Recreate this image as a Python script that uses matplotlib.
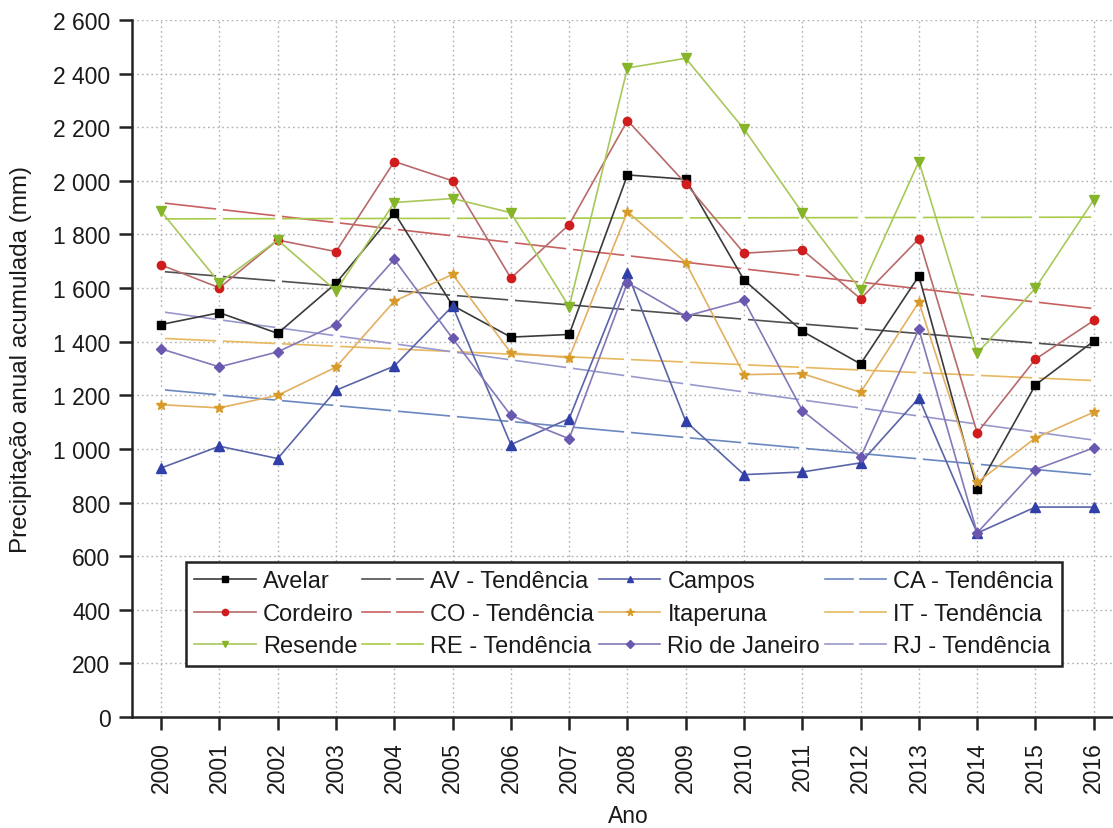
import numpy as np
import matplotlib
matplotlib.use("Agg")
import matplotlib.pyplot as plt
from matplotlib.ticker import FuncFormatter, MultipleLocator

plt.rcParams['font.family'] = ['Liberation Sans', 'DejaVu Sans']

years = list(range(2000, 2017))

avelar = [1464, 1508, 1431, 1618, 1881, 1535, 1417, 1427, 2022, 2006, 1630,
          1439, 1317, 1645, 850, 1239, 1402]
cordeiro = [1686, 1601, 1779, 1736, 2072, 2000, 1637, 1837, 2225, 1990, 1730,
            1743, 1560, 1784, 1060, 1335, 1479]
resende = [1886, 1620, 1779, 1590, 1919, 1934, 1881, 1530, 2421, 2457, 2193,
           1881, 1593, 2072, 1356, 1600, 1929]
campos = [929, 1010, 964, 1219, 1309, 1533, 1016, 1113, 1655, 1103, 904,
          914, 948, 1190, 686, 783, 783]
itaperuna = [1165, 1153, 1200, 1305, 1551, 1651, 1358, 1340, 1885, 1695, 1277,
             1281, 1211, 1548, 875, 1041, 1137]
rio = [1373, 1306, 1362, 1464, 1707, 1412, 1125, 1038, 1620, 1495, 1554,
       1143, 970, 1446, 687, 923, 1004]

stations = [
    # name, trend label, data, line colour, marker, marker size, marker colour, trend colour
    ("Avelar", "AV - Tendência", avelar, "#3a3a3a", "s", 5.5, "#000000", "#505050"),
    ("Cordeiro", "CO - Tendência", cordeiro, "#b86a6a", "o", 6.0, "#d01c1c", "#c86060"),
    ("Resende", "RE - Tendência", resende, "#a8c85a", "v", 6.5, "#86b52a", "#a8cc48"),
    ("Campos", "CA - Tendência", campos, "#5a64a8", "^", 6.5, "#3040a8", "#6a88c0"),
    ("Itaperuna", "IT - Tendência", itaperuna, "#e2b060", "*", 7.5, "#d89a28", "#e8b860"),
    ("Rio de Janeiro", "RJ - Tendência", rio, "#8478b8", "D", 5.0, "#6a58b0", "#9898cc"),
]

fig = plt.figure(figsize=(11.13, 8.29), dpi=100)
ax = fig.add_axes([0.1186, 0.1339, 0.8814, 0.8408])

x = np.array(years)
data_handles = {}
trend_handles = {}
for name, tname, vals, lc, mk, ms, mc, tc in stations:
    h, = ax.plot(x, vals, color=lc, lw=1.2, marker=mk, ms=ms,
                 markerfacecolor=mc, markeredgecolor=mc, label=name, zorder=3)
    # least-squares linear trend of the station series
    coef = np.polyfit(x, np.array(vals, dtype=float), 1)
    trend = np.polyval(coef, x)
    t, = ax.plot(x, trend, color=tc, lw=1.2, marker="o", ms=4,
                 markerfacecolor="white", markeredgecolor="white",
                 label=tname, zorder=2)
    data_handles[name] = h
    trend_handles[name] = t

ax.set_xlim(1999.5, 2016.33)
ax.set_ylim(0, 2600)
ax.yaxis.set_major_locator(MultipleLocator(200))
ax.yaxis.set_major_formatter(FuncFormatter(
    lambda v, p: f"{int(v):,}".replace(",", " ")))
ax.set_xticks(years)
ax.set_xticklabels([str(y) for y in years], rotation=90)
ax.tick_params(axis="both", labelsize=16.5, direction="out", length=9.5,
               width=1.8, color="#222222", labelcolor="#1a1a1a")
ax.tick_params(axis="y", pad=6)
ax.tick_params(axis="x", pad=8)

for side in ("top", "right"):
    ax.spines[side].set_visible(False)
for side in ("left", "bottom"):
    ax.spines[side].set_linewidth(1.8)
    ax.spines[side].set_color("#222222")

ax.grid(True, linestyle=(0, (1.2, 2.2)), color="#b0b0b0", lw=1.0)
ax.set_axisbelow(True)

ax.set_ylabel("Precipitação anual acumulada (mm)", fontsize=17.5, color="#1a1a1a")
ax.yaxis.set_label_coords(-0.102, 0.515)
ax.set_xlabel("Ano", fontsize=16.5, color="#1a1a1a")
ax.xaxis.label.set_verticalalignment("baseline")
ax.xaxis.set_label_coords(0.506, -0.151)

order = [
    data_handles["Avelar"], data_handles["Cordeiro"], data_handles["Resende"],
    trend_handles["Avelar"], trend_handles["Cordeiro"], trend_handles["Resende"],
    data_handles["Campos"], data_handles["Itaperuna"], data_handles["Rio de Janeiro"],
    trend_handles["Campos"], trend_handles["Itaperuna"], trend_handles["Rio de Janeiro"],
]
leg = ax.legend(handles=order, labels=[h.get_label() for h in order],
                ncol=4, loc="upper left", bbox_to_anchor=(0.1671, 0.3209),
                bbox_transform=fig.transFigure, borderaxespad=0,
                prop={"size": 17}, frameon=True, fancybox=False,
                edgecolor="#222222", framealpha=1, handlelength=2.6,
                handletextpad=0.3, columnspacing=0.2, labelspacing=0.45,
                borderpad=0.35, markerscale=0.75)
leg.get_frame().set_linewidth(1.8)
for txt in leg.get_texts():
    txt.set_color("#1a1a1a")

fig.savefig("out.png", dpi=100)
